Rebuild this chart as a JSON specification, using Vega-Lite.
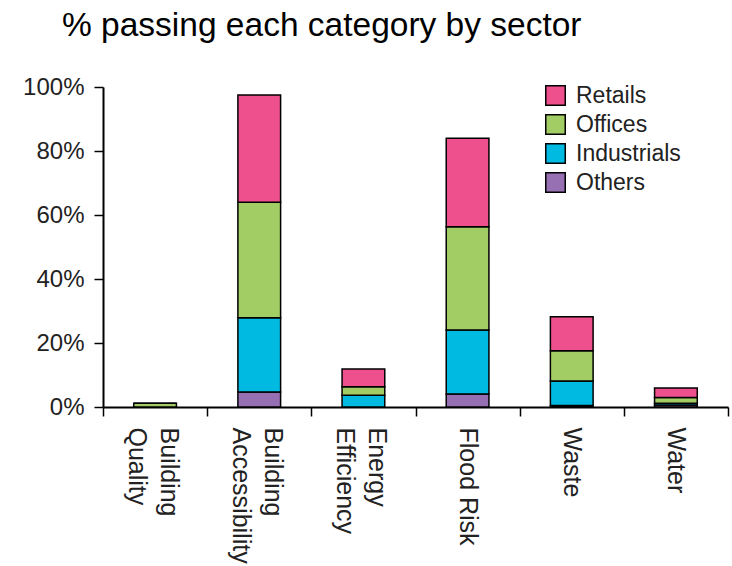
{
  "$schema": "https://vega.github.io/schema/vega-lite/v6.json",
  "autosize": {"type": "none"},
  "width": 625,
  "height": 320,
  "padding": {"left": 103, "top": 87, "right": 4, "bottom": 159},
  "background": "white",
  "title": {
    "text": "% passing each category by sector",
    "anchor": "start",
    "frame": "group",
    "dx": -41,
    "offset": 32,
    "font": "Liberation Sans",
    "fontSize": 33.5,
    "fontWeight": "normal",
    "color": "black"
  },
  "data": {
    "values": [
      {"cat": "Building Quality", "sector": "Others", "value": 0},
      {"cat": "Building Quality", "sector": "Industrials", "value": 0},
      {"cat": "Building Quality", "sector": "Offices", "value": 1.2},
      {"cat": "Building Quality", "sector": "Retails", "value": 0},
      {"cat": "Building Accessibility", "sector": "Others", "value": 4.7},
      {"cat": "Building Accessibility", "sector": "Industrials", "value": 23.2},
      {"cat": "Building Accessibility", "sector": "Offices", "value": 36.1},
      {"cat": "Building Accessibility", "sector": "Retails", "value": 33.5},
      {"cat": "Energy Efficiency", "sector": "Others", "value": 0},
      {"cat": "Energy Efficiency", "sector": "Industrials", "value": 3.7},
      {"cat": "Energy Efficiency", "sector": "Offices", "value": 2.6},
      {"cat": "Energy Efficiency", "sector": "Retails", "value": 5.6},
      {"cat": "Flood Risk", "sector": "Others", "value": 4.1},
      {"cat": "Flood Risk", "sector": "Industrials", "value": 20.0},
      {"cat": "Flood Risk", "sector": "Offices", "value": 32.2},
      {"cat": "Flood Risk", "sector": "Retails", "value": 27.7},
      {"cat": "Waste", "sector": "Others", "value": 0.5},
      {"cat": "Waste", "sector": "Industrials", "value": 7.6},
      {"cat": "Waste", "sector": "Offices", "value": 9.5},
      {"cat": "Waste", "sector": "Retails", "value": 10.6},
      {"cat": "Water", "sector": "Others", "value": 0.6},
      {"cat": "Water", "sector": "Industrials", "value": 0.6},
      {"cat": "Water", "sector": "Offices", "value": 1.8},
      {"cat": "Water", "sector": "Retails", "value": 2.9}
    ]
  },
  "transform": [
    {"calculate": "indexof(['Others', 'Industrials', 'Offices', 'Retails'], datum.sector)", "as": "stackOrder"}
  ],
  "mark": {"type": "bar", "stroke": "black", "strokeWidth": 1.5, "width": {"band": 0.41}},
  "encoding": {
    "x": {
      "field": "cat",
      "type": "nominal",
      "sort": null,
      "title": null,
      "scale": {"paddingInner": 0, "paddingOuter": 0},
      "axis": {
        "labelExpr": "datum.label == 'Flood Risk' ? datum.label : split(datum.label, ' ')",
        "labelAngle": 90,
        "labelAlign": "left",
        "labelBaseline": {
          "condition": {"test": "datum.label == 'Building Quality' || datum.label == 'Building Accessibility' || datum.label == 'Energy Efficiency'", "value": "bottom"},
          "value": "middle"
        },
        "labelFont": "Liberation Sans",
        "labelFontSize": 25,
        "labelLineHeight": 32,
        "labelColor": "#222",
        "labelPadding": 11,
        "tickBand": "extent",
        "tickSize": 9,
        "tickWidth": 1.5,
        "tickColor": "black",
        "domainColor": "black",
        "domainWidth": 2,
        "grid": false
      }
    },
    "y": {
      "field": "value",
      "type": "quantitative",
      "aggregate": "sum",
      "stack": "zero",
      "title": null,
      "scale": {"domain": [0, 100], "nice": false},
      "axis": {
        "values": [0, 20, 40, 60, 80, 100],
        "labelExpr": "datum.value + '%'",
        "labelFont": "Liberation Sans",
        "labelFontSize": 24,
        "labelColor": "#222",
        "labelPadding": 10,
        "tickSize": 9,
        "tickWidth": 1.5,
        "tickColor": "black",
        "domainColor": "black",
        "domainWidth": 2,
        "grid": false
      }
    },
    "color": {
      "field": "sector",
      "type": "nominal",
      "scale": {
        "domain": ["Retails", "Offices", "Industrials", "Others"],
        "range": ["#EE4F8D", "#A2CD64", "#00BAE2", "#9670B3"]
      },
      "legend": {
        "title": null,
        "orient": "none",
        "legendX": 441,
        "legendY": -3,
        "symbolType": "square",
        "symbolSize": 380,
        "symbolStrokeColor": "black",
        "symbolStrokeWidth": 1.5,
        "symbolOpacity": 1,
        "labelFont": "Liberation Sans",
        "labelFontSize": 23,
        "labelColor": "#222",
        "labelOffset": 9,
        "rowPadding": 2
      }
    },
    "order": {"field": "stackOrder", "type": "quantitative", "sort": "ascending"}
  },
  "config": {"view": {"stroke": null}}
}
